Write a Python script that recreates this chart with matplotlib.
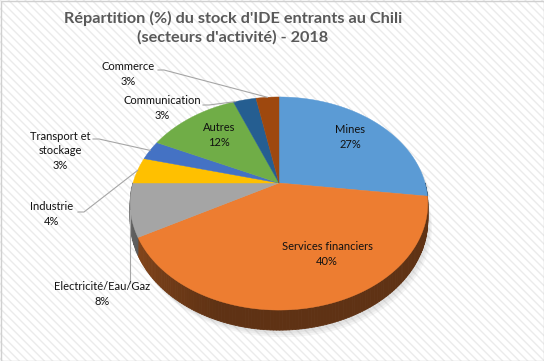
import numpy as np
import matplotlib
matplotlib.use('Agg')
import matplotlib.pyplot as plt
from matplotlib.patches import Polygon, Rectangle
from matplotlib.collections import PolyCollection
from matplotlib.colors import to_rgb

# data
sectors = ['Mines', 'Services financiers', 'Electricité/Eau/Gaz', 'Industrie',
           'Transport et\nstockage', 'Autres', 'Communication', 'Commerce']
shares = [27, 40, 8, 4, 3, 12, 3, 3]
colors = ['#5B9BD5', '#ED7D31', '#A5A5A5', '#FFC000',
          '#4472C4', '#70AD47', '#255E91', '#9E480E']
title = "Répartition (%) du stock d'IDE entrants au Chili\n(secteurs d'activité) - 2018"

# layout (pixels)
cx, cy = 279, 183
s, sa, k, d = 146, 102.6, 0.1925, 16.2
# label centre, leader start (None = label inside), anchor fraction within slice
lab_pos = [(350, 137), (327, 254), (102, 294), (52, 214), (60, 151), (219, 135), (162, 108), (128, 74)]
lead_start = [None, None, 'vert', (78, 212), (93, 139), None, (203, 105), (158, 70)]
anchor_frac = [0.5, 0.5, 0.5, 0.5, 0.5, 0.5, 0.1, 0.5]


def proj(theta, z=0.0):
    u, v = np.sin(theta), -np.cos(theta)
    w = 1 - k * v
    return cx + s * u / w, cy + sa * v / w + z * d / w


fig = plt.figure(figsize=(5.44, 3.61), dpi=100)
ax = fig.add_axes([0, 0, 1, 1])
ax.set_xlim(0, 544)
ax.set_ylim(361, 0)
ax.axis('off')

# background hatch + border
ax.add_patch(Rectangle((0, 0), 544, 361, facecolor='white', edgecolor='#ebebeb',
                       hatch='\\\\\\\\', lw=0, zorder=0))
ax.add_patch(Rectangle((0.5, 0.5), 543, 360, facecolor='none', edgecolor='#d0d0d0', lw=1, zorder=10))

fracs = np.array(shares) / sum(shares)
edges = np.concatenate([[0], np.cumsum(fracs)]) * 2 * np.pi

# shadow
th = np.linspace(0, 2 * np.pi, 361)
outline = [proj(t, 1.0 if np.cos(t) < 0 else 0.0) for t in th]
outline = np.array(outline)
for i, off in enumerate([7, 5, 3]):
    ax.add_patch(Polygon(outline + [off * 0.6, off], closed=True, facecolor='#808080',
                         edgecolor='none', alpha=0.08, zorder=1))

# side faces
quads, qcols = [], []
for i in range(len(shares)):
    a0, a1 = max(edges[i], np.pi / 2), min(edges[i + 1], 1.5 * np.pi)
    if a1 <= a0:
        continue
    ts = np.linspace(a0, a1, max(int(np.degrees(a1 - a0)), 2))
    base = np.array(to_rgb(colors[i]))
    for t1, t2 in zip(ts[:-1], ts[1:]):
        quads.append([proj(t1), proj(t2), proj(t2, 1), proj(t1, 1)])
        tm = np.degrees((t1 + t2) / 2)
        f = 0.40 + 0.22 * np.clip((tm - 200) / 60, 0, 1)
        qcols.append(base * f)
ax.add_collection(PolyCollection(quads, facecolors=qcols, edgecolors=qcols, lw=0.6, zorder=2))

# top faces
for i in range(len(shares)):
    ts = np.linspace(edges[i], edges[i + 1], 120)
    pts = [(cx, cy)] + [proj(t) for t in ts]
    ax.add_patch(Polygon(pts, closed=True, facecolor=colors[i], edgecolor=colors[i], lw=0.3, zorder=3))

# labels and leader lines
font = dict(family=['Lato', 'DejaVu Sans'], fontsize=8.0, color='#111111')
for i, name in enumerate(sectors):
    x, y = lab_pos[i]
    ax.text(x, y, f'{name}\n{shares[i]}%', ha='center', va='center', linespacing=1.4, zorder=5, **font)
    st = lead_start[i]
    if st is None:
        continue
    ta = edges[i] + anchor_frac[i] * (edges[i + 1] - edges[i])
    axp, ayp = proj(ta)
    if st == 'vert':
        xs, ys = [axp, axp], [y - 11, ayp]
    else:
        xs, ys = [st[0], st[0] + 6, axp], [st[1], st[1], ayp]
    ax.plot(xs, ys, color='#a6a6a6', lw=0.8, zorder=4)

ax.text(233, 28, title, ha='center', va='center', fontsize=11.7, fontweight='bold',
        family=['Lato', 'DejaVu Sans'], color='#595959', linespacing=1.4, zorder=5)

fig.savefig('out.png', dpi=100)
